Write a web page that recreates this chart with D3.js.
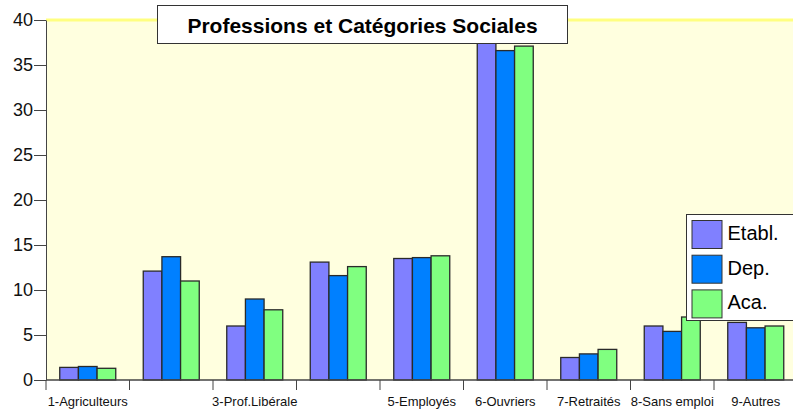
<!DOCTYPE html>
<html>
<head>
<meta charset="utf-8">
<script src="https://cdn.jsdelivr.net/npm/d3@7"></script>
<style>
  body { margin: 0; background: #fff; }
  svg { display: block; font-family: "Liberation Sans", Arial, sans-serif; }
  .axis path, .axis line { stroke: #444; }
  .axis text { fill: #111; }
</style>
</head>
<body>
<div id="chart"></div>
<script>
// categories and shown tick labels (2 and 4 have no label in the original)
var categories = ["1-Agriculteurs", "2-Artisans", "3-Prof.Libérale", "4-Prof.Interm.",
    "5-Employés", "6-Ouvriers", "7-Retraités", "8-Sans emploi", "9-Autres"];
var tickLabels = ["1-Agriculteurs", "", "3-Prof.Libérale", "", "5-Employés",
    "6-Ouvriers", "7-Retraités", "8-Sans emploi", "9-Autres"];
var seriesNames = ["Etabl.", "Dep.", "Aca."];
var seriesColors = ["#8080ff", "#0080ff", "#80ff80"];

var etabl = [1.4, 12.1, 6.0, 13.1, 13.5, 38.2, 2.5, 6.0, 6.4];
var dep   = [1.5, 13.7, 9.0, 11.6, 13.6, 36.6, 2.9, 5.4, 5.8];
var aca   = [1.3, 11.0, 7.8, 12.6, 13.8, 37.1, 3.4, 7.0, 6.0];
var yTicks = [0, 5, 10, 15, 20, 25, 30, 35, 40];

var title = "Professions et Catégories Sociales";

var W = 793, H = 410;
var margin = { top: 20, left: 46, bottom: 30 };
var plotW = 751.5, plotH = H - margin.top - margin.bottom;

var svg = d3.select("#chart").append("svg")
    .attr("width", W)
    .attr("height", H);

var g = svg.append("g")
    .attr("transform", "translate(" + margin.left + "," + margin.top + ")");

// Scales
var x = d3.scaleBand().domain(categories).range([0, plotW]);
var xSub = d3.scaleBand().domain(seriesNames)
    .range([13.75, x.bandwidth() - 13.75]);
var y = d3.scaleLinear().domain([0, 40]).range([plotH, 0]);

// plot background
g.append("rect")
    .attr("width", plotW)
    .attr("height", plotH)
    .attr("fill", "#ffffdf");
g.append("line")
    .attr("x1", 0).attr("x2", plotW)
    .attr("y1", 0).attr("y2", 0)
    .attr("stroke", "#ffff80")
    .attr("stroke-width", 3);

// bars
var rows = categories.map(function(c, i) {
    return { cat: c, vals: [etabl[i], dep[i], aca[i]] };
});

var groups = g.selectAll(".grp")
    .data(rows)
    .enter().append("g")
    .attr("class", "grp")
    .attr("transform", function(d) { return "translate(" + x(d.cat) + ",0)"; });

groups.selectAll("rect")
    .data(function(d) {
        return d.vals.map(function(v, j) { return { name: seriesNames[j], v: v, j: j }; });
    })
    .enter().append("rect")
    .attr("x", function(d) { return xSub(d.name); })
    .attr("y", function(d) { return y(d.v); })
    .attr("width", xSub.bandwidth())
    .attr("height", function(d) { return plotH - y(d.v); })
    .attr("fill", function(d) { return seriesColors[d.j]; })
    .attr("stroke", "#2a2a2a")
    .attr("stroke-width", 1.3);

// axes
var yAxis = d3.axisLeft(y)
    .tickValues(yTicks)
    .tickSize(12)
    .tickPadding(1)
    .tickSizeOuter(0);

g.append("g")
    .attr("class", "axis y-axis")
    .call(yAxis)
    .call(function(s) { s.select(".domain").attr("stroke", "#555"); })
    .selectAll("text")
    .attr("font-size", 18);

// x ticks at band boundaries
var xAxisG = g.append("g")
    .attr("class", "axis x-axis")
    .attr("transform", "translate(0," + plotH + ")");

xAxisG.append("line")
    .attr("x1", 0).attr("x2", plotW)
    .attr("stroke", "#555")
    .attr("stroke-width", 1.3);

xAxisG.selectAll(".tk")
    .data(categories)
    .enter().append("line")
    .attr("class", "tk")
    .attr("x1", function(d) { return x(d); })
    .attr("x2", function(d) { return x(d); })
    .attr("y1", 0).attr("y2", 10)
    .attr("stroke", "#444");

xAxisG.selectAll(".lbl")
    .data(categories)
    .enter().append("text")
    .attr("class", "lbl")
    .attr("x", function(d) { return x(d) + x.bandwidth() / 2; })
    .attr("y", 26)
    .attr("text-anchor", "middle")
    .attr("font-size", 13)
    .text(function(d, i) { return tickLabels[i]; });

// title box
var tb = svg.append("g").attr("transform", "translate(157.5,5.5)");
tb.append("rect")
    .attr("width", 410)
    .attr("height", 38)
    .attr("fill", "#fff")
    .attr("stroke", "#333");
tb.append("text")
    .attr("x", 205)
    .attr("y", 27)
    .attr("text-anchor", "middle")
    .attr("font-size", 21)
    .attr("font-weight", "bold")
    .text(title);

// legend
var lg = svg.append("g").attr("transform", "translate(686.5,214.5)");
lg.append("rect")
    .attr("width", 120)
    .attr("height", 106)
    .attr("fill", "#fff")
    .attr("stroke", "#333");

var items = lg.selectAll(".item")
    .data(seriesNames)
    .enter().append("g")
    .attr("class", "item")
    .attr("transform", function(d, i) { return "translate(5.5," + (6 + i * 34.7) + ")"; });

items.append("rect")
    .attr("width", 30)
    .attr("height", 28)
    .attr("fill", function(d, i) { return seriesColors[i]; })
    .attr("stroke", "#333");

items.append("text")
    .attr("x", 35.5)
    .attr("y", 19.5)
    .attr("font-size", 20)
    .text(function(d) { return d; });
</script>
</body>
</html>
